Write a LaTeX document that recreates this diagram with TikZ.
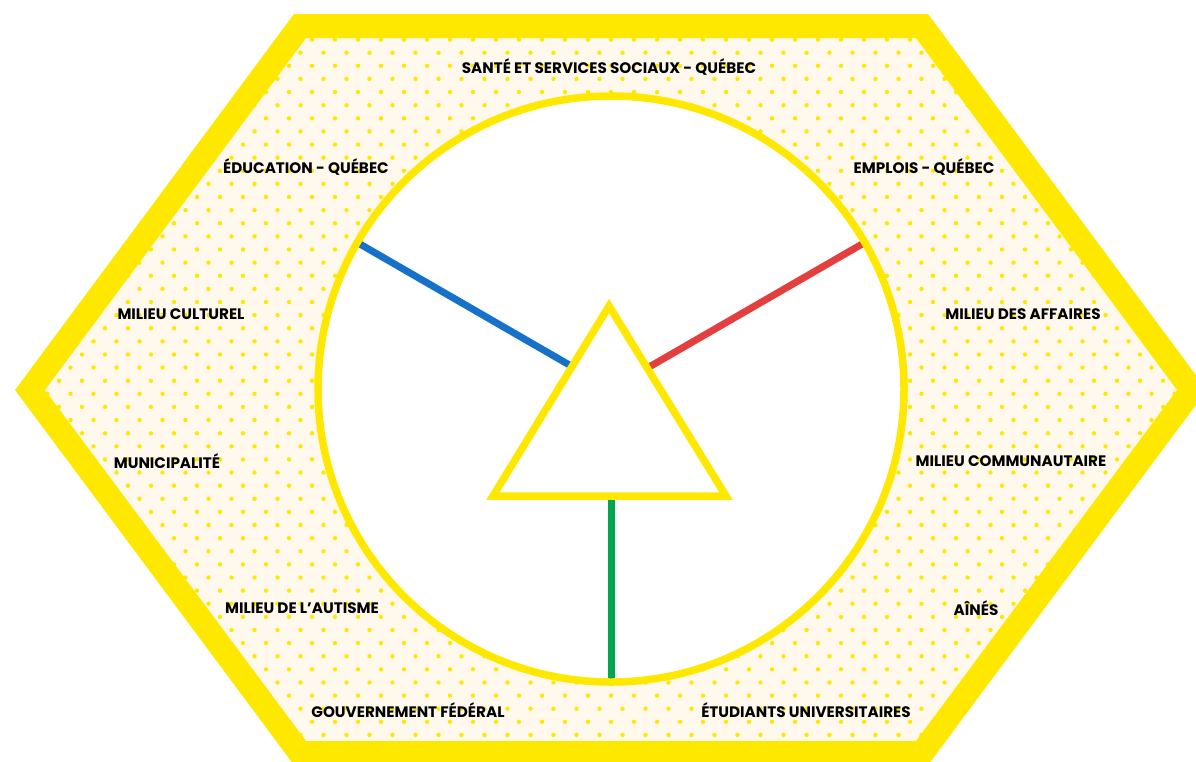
\documentclass[tikz,border=0pt]{standalone}
\usepackage{fontspec}
\setmainfont{Poppins}
\usetikzlibrary{positioning}
\definecolor{HexYellow}{RGB}{255,232,0}
\definecolor{PaperCream}{RGB}{255,248,237}
\definecolor{SpokeBlue}{RGB}{22,114,200}
\definecolor{SpokeRed}{RGB}{228,62,62}
\definecolor{SpokeGreen}{RGB}{0,166,80}

\begin{document}
\begin{tikzpicture}[x=1pt, y=-1pt,
    partner/.style={font=\bfseries\fontsize{15.2}{15.2}\selectfont, text=black, inner sep=0pt},
    spoke/.style={line width=7pt}]
    \useasboundingbox (0,0) rectangle (1196,761);

    % Hexagon corners
    \coordinate (h1) at (300,26);
    \coordinate (h2) at (922,26);
    \coordinate (h3) at (1192,390);
    \coordinate (h4) at (922,753);
    \coordinate (h5) at (300,753);
    \coordinate (h6) at (30,390);

    % Cream background with dots
    \fill[PaperCream] (h1) -- (h2) -- (h3) -- (h4) -- (h5) -- (h6) -- cycle;
    \begin{scope}
      \clip (h1) -- (h2) -- (h3) -- (h4) -- (h5) -- (h6) -- cycle;
      \foreach \j in {0,...,57}{
        \pgfmathsetmacro{\off}{1.5+mod(\j+1,2)*11.5}
        \pgfmathsetmacro{\ypos}{13.34+13.12*\j}
        \foreach \i in {0,...,52}
          \fill[HexYellow] (\i*23+\off, \ypos) circle (2.2pt);
      }
    \end{scope}

    % Ring
    \node[circle, minimum size=586pt, inner sep=0pt, fill=white] (ring) at (611,389) {};

    % Spokes
    \draw[spoke, SpokeBlue] (ring.150) -- (ring.center);
    \draw[spoke, SpokeRed] (ring.30) -- (ring.center);
    \draw[spoke, SpokeGreen] (ring.center) -- (ring.south);

    \draw[HexYellow, line width=7.5pt] (ring.center) circle (293pt);

    % Triangle
    \coordinate (apex) at (609,306);
    \coordinate (baseL) at (493,496);
    \coordinate (baseR) at (726,496);
    \draw[HexYellow, line width=7.5pt, fill=white, line join=miter] (apex) -- (baseR) -- (baseL) -- cycle;

    % Hexagon border
    \draw[HexYellow, line width=24pt, line join=miter] (h1) -- (h2) -- (h3) -- (h4) -- (h5) -- (h6) -- cycle;

    % Labels
    \node[partner] (sante) at (609,67) {SANTÉ ET SERVICES SOCIAUX - QUÉBEC};
    \node[partner] (education) at (306,167) {ÉDUCATION - QUÉBEC};
    \node[partner] (emplois) at (924,167) {EMPLOIS - QUÉBEC};
    \node[partner] (culturel) at (181,314) {MILIEU CULTUREL};
    \node[partner] (affaires) at (1023,314) {MILIEU DES AFFAIRES};
    \node[partner] (municipalite) at (167,461) {MUNICIPALITÉ};
    \node[partner] (communautaire) at (1011,461) {MILIEU COMMUNAUTAIRE};
    \node[partner] (autisme) at (302,608) {MILIEU DE L’AUTISME};
    \node[partner] (aines) at (976,608) {AÎNÉS};
    \node[partner] (federal) at (408,710) {GOUVERNEMENT FÉDÉRAL};
    \node[partner] (etudiants) at (806,710) {ÉTUDIANTS UNIVERSITAIRES};
\end{tikzpicture}
\end{document}
